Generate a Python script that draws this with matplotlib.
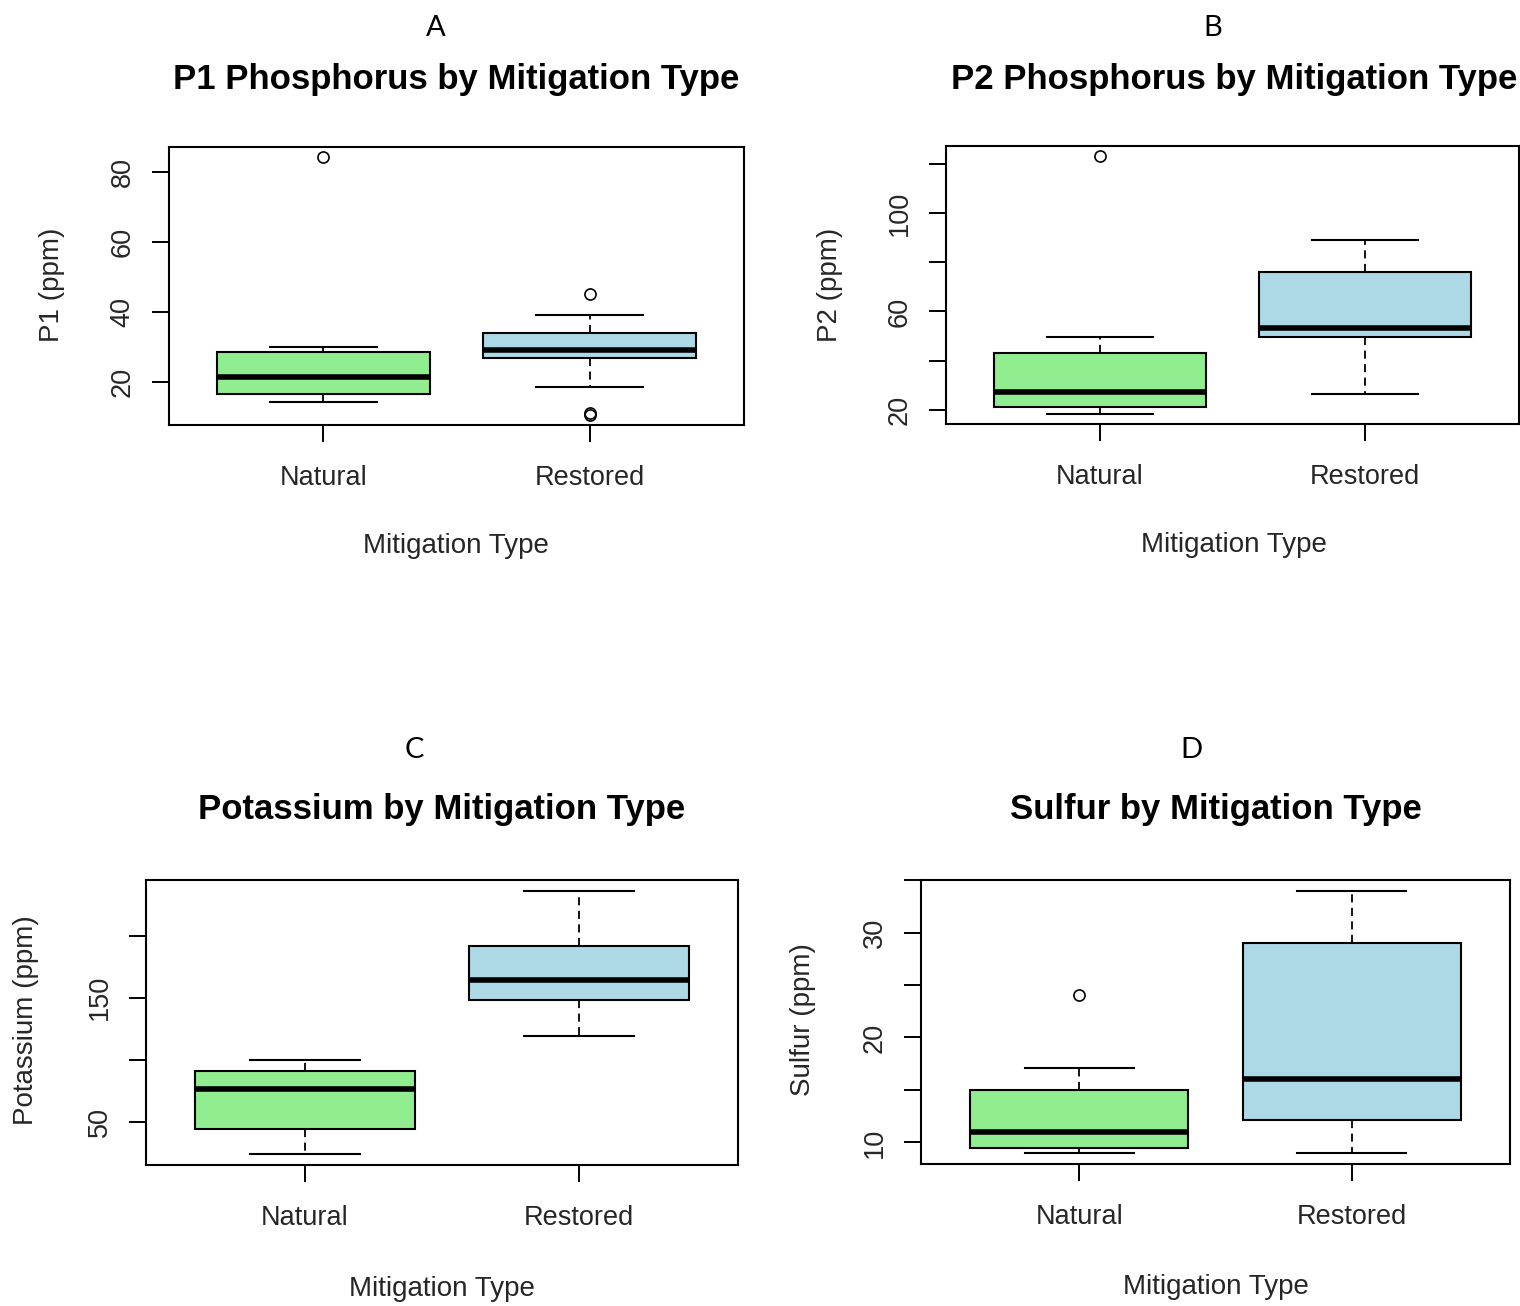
import numpy as np
import matplotlib
matplotlib.use('Agg')
import matplotlib.pyplot as plt

# group names (x axis)
groups = ['Natural', 'Restored']

# P1 phosphorus (ppm)
p1_whislo = [14.0, 18.3]
p1_q1 = [16.3, 26.9]
p1_med = [21.2, 29.0]
p1_q3 = [28.4, 33.8]
p1_whishi = [29.8, 39.0]
p1_fliers = [[84.3], [45.1, 11.0, 10.5]]

# P2 phosphorus (ppm)
p2_whislo = [18.5, 26.4]
p2_q1 = [21.4, 49.6]
p2_med = [27.2, 53.1]
p2_q3 = [43.1, 76.0]
p2_whishi = [49.6, 89.2]
p2_fliers = [[123.0], []]

# Potassium (ppm)
k_whislo = [23.7, 119.0]
k_q1 = [44.0, 148.4]
k_med = [76.4, 164.5]
k_q3 = [91.0, 192.0]
k_whishi = [100.0, 236.3]
k_fliers = [[], []]

# Sulfur (ppm)
s_whislo = [8.95, 9.0]
s_q1 = [9.5, 12.1]
s_med = [11.0, 16.0]
s_q3 = [15.0, 29.0]
s_whishi = [17.1, 34.0]
s_fliers = [[24.0], []]

box_colors = ['#90EE90', '#ADD8E6']

W, H = 1520, 1306
fig = plt.figure(figsize=(W / 100, H / 100), dpi=100)
fig.patch.set_facecolor('white')

label_font = 'Liberation Sans'
txt_col = '#262626'


def px_axes(x0, y0, x1, y1):
    return fig.add_axes([x0 / W, 1 - y1 / H, (x1 - x0) / W, (y1 - y0) / H])


def draw_panel(ax, whislo, q1, med, q3, whishi, fliers, yticks, yticklabels):
    stats = []
    for i in range(len(groups)):
        stats.append(dict(whislo=whislo[i], q1=q1[i], med=med[i], q3=q3[i],
                          whishi=whishi[i], fliers=fliers[i], label=groups[i]))
    bp = ax.bxp(stats, positions=[1, 2], widths=0.8, patch_artist=True,
                boxprops=dict(edgecolor='black', linewidth=1.5),
                medianprops=dict(color='black', linewidth=4.0, solid_capstyle='butt'),
                whiskerprops=dict(color='black', linewidth=1.3, linestyle=(0, (4.5, 3))),
                capprops=dict(color='black', linewidth=1.5),
                flierprops=dict(marker='o', markerfacecolor='none', markeredgecolor='black',
                                markersize=8, markeredgewidth=1.2),
                capwidths=0.4)
    for patch, c in zip(bp['boxes'], box_colors):
        patch.set_facecolor(c)

    allv = whislo + whishi + [v for f in fliers for v in f]
    lo, hi = min(allv), max(allv)
    ext = (hi - lo) * 0.04
    ax.set_ylim(lo - ext, hi + ext)
    ax.set_xlim(0.42, 2.58)

    ax.set_yticks(yticks)
    ax.set_yticklabels(yticklabels)
    ax.set_xticks([1, 2])
    ax.set_xticklabels(groups)
    ax.tick_params(axis='both', direction='out', length=12, width=1.4,
                   labelsize=19.5, labelcolor=txt_col)
    ax.tick_params(axis='x', pad=17)
    ax.tick_params(axis='y', pad=12, labelrotation=90)
    for t in ax.get_yticklabels() + ax.get_xticklabels():
        t.set_fontfamily(label_font)
    for t in ax.get_yticklabels():
        t.set_va('center')
    for sp in ax.spines.values():
        sp.set_linewidth(1.5)


def panel_text(letter, lx, ly, title, tx, ty, ylab, yx, yy, xx, xy):
    fig.text(lx / W, 1 - ly / H, letter, ha='center', va='center',
             fontsize=21, family='Lato')
    fig.text(tx / W, 1 - ty / H, title, ha='center', va='center',
             fontsize=25, fontweight='bold', family=label_font)
    fig.text(yx / W, 1 - yy / H, ylab, ha='center', va='center', rotation=90,
             fontsize=20, family=label_font, color=txt_col)
    fig.text(xx / W, 1 - xy / H, 'Mitigation Type', ha='center', va='center',
             fontsize=20, family=label_font, color=txt_col)


# A
axA = px_axes(169, 147, 744, 425)
draw_panel(axA, p1_whislo, p1_q1, p1_med, p1_q3, p1_whishi, p1_fliers,
           [20, 40, 60, 80], ['20', '40', '60', '80'])
panel_text('A', 436, 28, 'P1 Phosphorus by Mitigation Type', 456, 80,
           'P1 (ppm)', 52, 285, 456, 546)

# B
axB = px_axes(946, 146, 1519, 424)
draw_panel(axB, p2_whislo, p2_q1, p2_med, p2_q3, p2_whishi, p2_fliers,
           [20, 40, 60, 80, 100, 120], ['20', '', '60', '', '100', ''])
panel_text('B', 1213, 28, 'P2 Phosphorus by Mitigation Type', 1234, 79,
           'P2 (ppm)', 830, 285, 1234, 545)

# C
axC = px_axes(146, 880, 738, 1165)
draw_panel(axC, k_whislo, k_q1, k_med, k_q3, k_whishi, k_fliers,
           [50, 100, 150, 200], ['50', '', '150', ''])
panel_text('C', 414, 750, 'Potassium by Mitigation Type', 442, 810,
           'Potassium (ppm)', 26, 1020, 442, 1289)

# D
axD = px_axes(921, 880, 1510, 1164)
draw_panel(axD, s_whislo, s_q1, s_med, s_q3, s_whishi, s_fliers,
           [10, 15, 20, 25, 30, 35], ['10', '', '20', '', '30', ''])
panel_text('D', 1191, 750, 'Sulfur by Mitigation Type', 1216, 810,
           'Sulfur (ppm)', 803, 1020, 1216, 1287)

fig.savefig('out.png', dpi=100, facecolor='white')
